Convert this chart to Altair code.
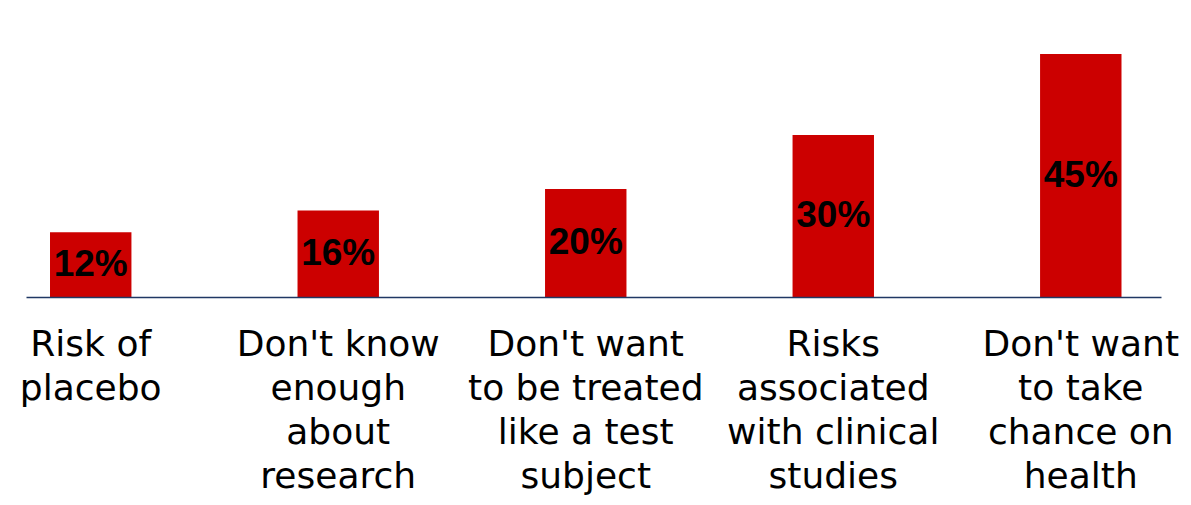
import altair as alt
import pandas as pd

categories = [
    "Risk of|placebo",
    "Don't know|enough|about|research",
    "Don't want|to be treated|like a test|subject",
    "Risks|associated|with clinical|studies",
    "Don't want|to take|chance on|health",
]
values = [12, 16, 20, 30, 45]
labels = ["12%", "16%", "20%", "30%", "45%"]

df = pd.DataFrame({"category": categories, "value": values, "label": labels})

x = alt.X(
    "category:N",
    sort=None,
    title=None,
    scale=alt.Scale(paddingInner=0.671, paddingOuter=0.1283, align=0.378),
    axis=alt.Axis(
        labelExpr="split(datum.label, '|')",
        labelAngle=0,
        ticks=False,
        domainColor="#203864",
        domainWidth=1.5,
        labelFont="DejaVu Sans",
        labelFontSize=36,
        labelColor="#000000",
        labelLineHeight=44,
        labelPadding=30,
        labelLimit=0,
        labelOverlap=False,
        zindex=1,
    ),
)
y = alt.Y("value:Q", scale=alt.Scale(domain=[0, 45], nice=False, zero=True), axis=None)

bars = alt.Chart(df).mark_bar(color="#CC0000").encode(x=x, y=y)
text = (
    alt.Chart(df)
    .transform_calculate(mid="datum.value / 2")
    .mark_text(font="Liberation Sans", fontWeight="bold", fontSize=37, color="black", baseline="middle")
    .encode(x=x, y=alt.Y("mid:Q", axis=None), text="label:N")
)

chart = (
    (bars + text)
    .properties(
        width=1135,
        height=243,
        autosize=alt.AutoSizeParams(type="none"),
        padding={"left": 18, "top": 46, "right": 22, "bottom": 200},
    )
    .configure_view(stroke=None)
)

chart.save("out.html", embed_options={"renderer": "svg", "actions": False})
